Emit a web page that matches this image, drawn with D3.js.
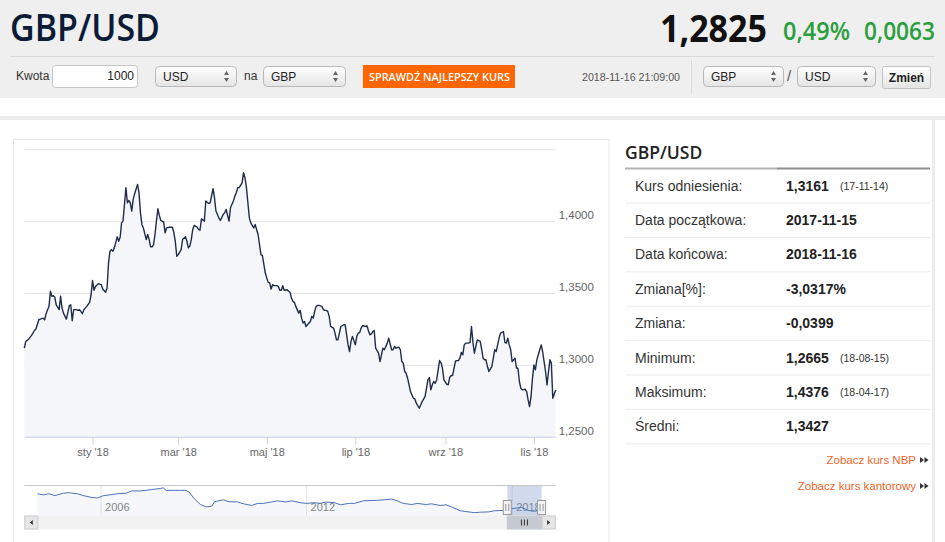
<!DOCTYPE html>
<html lang="pl">
<head>
<meta charset="utf-8">
<title>GBP/USD</title>
<script src="https://cdn.jsdelivr.net/npm/d3@7/dist/d3.min.js"></script>
<style>
  html, body { margin: 0; padding: 0; background: #fff; }
  body { width: 945px; height: 542px; overflow: hidden; }
  svg text { font-family: Arial, "Liberation Sans", sans-serif; }
</style>
</head>
<body>
<div id="chart"></div>
<script>
// GBP/USD 2017-11-15 .. 2018-11-16 (odczyt z wykresu)
const dates = [
  "2017-11-15","2017-11-16","2017-11-18","2017-11-20","2017-11-22","2017-11-23","2017-11-25","2017-11-26","2017-11-28","2017-11-29","2017-11-30",
  "2017-12-02","2017-12-03","2017-12-04","2017-12-05","2017-12-06","2017-12-07","2017-12-09","2017-12-10","2017-12-11","2017-12-12","2017-12-14","2017-12-16","2017-12-17","2017-12-18","2017-12-19","2017-12-21","2017-12-22","2017-12-23","2017-12-25","2017-12-26","2017-12-28","2017-12-30","2017-12-31",
  "2018-01-01","2018-01-02","2018-01-03","2018-01-05","2018-01-07","2018-01-08","2018-01-10","2018-01-11","2018-01-12","2018-01-13","2018-01-14","2018-01-15","2018-01-16","2018-01-18","2018-01-19","2018-01-20","2018-01-21","2018-01-22","2018-01-24","2018-01-25","2018-01-26","2018-01-27","2018-01-28","2018-01-29","2018-01-30",
  "2018-02-01","2018-02-02","2018-02-03","2018-02-04","2018-02-05","2018-02-07","2018-02-08","2018-02-09","2018-02-10","2018-02-11","2018-02-12","2018-02-13","2018-02-14","2018-02-15","2018-02-16","2018-02-17","2018-02-19","2018-02-20","2018-02-21","2018-02-23","2018-02-25","2018-02-26","2018-02-27","2018-02-28",
  "2018-03-01","2018-03-03","2018-03-04","2018-03-06","2018-03-07","2018-03-08","2018-03-09","2018-03-10","2018-03-11","2018-03-12","2018-03-14","2018-03-15","2018-03-16","2018-03-17","2018-03-19","2018-03-20","2018-03-22","2018-03-23","2018-03-25","2018-03-26","2018-03-27","2018-03-29","2018-03-30",
  "2018-04-01","2018-04-02","2018-04-03","2018-04-05","2018-04-06","2018-04-08","2018-04-09","2018-04-10","2018-04-11","2018-04-12","2018-04-14","2018-04-15","2018-04-16","2018-04-17","2018-04-18","2018-04-19","2018-04-20","2018-04-22","2018-04-23","2018-04-24","2018-04-25","2018-04-26","2018-04-27","2018-04-28","2018-04-30",
  "2018-05-01","2018-05-02","2018-05-03","2018-05-04","2018-05-05","2018-05-06","2018-05-08","2018-05-09","2018-05-10","2018-05-11","2018-05-12","2018-05-13","2018-05-15","2018-05-16","2018-05-17","2018-05-18","2018-05-19","2018-05-20","2018-05-21","2018-05-23","2018-05-24","2018-05-25","2018-05-26","2018-05-27","2018-05-28","2018-05-29","2018-05-31",
  "2018-06-01","2018-06-02","2018-06-03","2018-06-04","2018-06-05","2018-06-06","2018-06-08","2018-06-09","2018-06-10","2018-06-11","2018-06-12","2018-06-13","2018-06-14","2018-06-16","2018-06-17","2018-06-18","2018-06-19","2018-06-20","2018-06-21","2018-06-23","2018-06-24","2018-06-25","2018-06-26","2018-06-27","2018-06-28","2018-06-29",
  "2018-07-01","2018-07-02","2018-07-03","2018-07-04","2018-07-05","2018-07-06","2018-07-08","2018-07-09","2018-07-10","2018-07-11","2018-07-12","2018-07-13","2018-07-14","2018-07-15","2018-07-17","2018-07-18","2018-07-20","2018-07-21","2018-07-23","2018-07-24","2018-07-26","2018-07-27","2018-07-28","2018-07-29","2018-07-31",
  "2018-08-01","2018-08-02","2018-08-03","2018-08-04","2018-08-05","2018-08-06","2018-08-07","2018-08-08","2018-08-10","2018-08-11","2018-08-12","2018-08-14","2018-08-15","2018-08-16","2018-08-18","2018-08-19","2018-08-20","2018-08-21","2018-08-22","2018-08-23","2018-08-24","2018-08-25","2018-08-26","2018-08-28","2018-08-29","2018-08-30","2018-08-31",
  "2018-09-02","2018-09-03","2018-09-04","2018-09-05","2018-09-06","2018-09-07","2018-09-08","2018-09-10","2018-09-11","2018-09-12","2018-09-13","2018-09-14","2018-09-15","2018-09-17","2018-09-18","2018-09-19","2018-09-20","2018-09-21","2018-09-22","2018-09-23","2018-09-25","2018-09-26","2018-09-27","2018-09-28","2018-09-29","2018-09-30",
  "2018-10-01","2018-10-03","2018-10-04","2018-10-05","2018-10-06","2018-10-07","2018-10-08","2018-10-09","2018-10-11","2018-10-12","2018-10-13","2018-10-14","2018-10-15","2018-10-16","2018-10-17","2018-10-19","2018-10-20","2018-10-21","2018-10-22","2018-10-23","2018-10-24","2018-10-26","2018-10-27","2018-10-28","2018-10-29","2018-10-30","2018-10-31",
  "2018-11-01","2018-11-02","2018-11-03","2018-11-04","2018-11-05","2018-11-06","2018-11-07","2018-11-08","2018-11-09","2018-11-10","2018-11-12","2018-11-13","2018-11-14","2018-11-16"
];
const rates = [
  1.3116,1.3163,1.3179,1.3205,1.3239,1.3249,1.3314,1.3318,1.3325,1.3314,1.3356,
  1.3407,1.3512,1.3477,1.3481,1.3472,1.3418,1.3384,1.3477,1.3395,1.3360,1.3318,1.3412,1.3418,1.3307,1.3384,1.3384,1.3379,1.3384,1.3356,1.3384,1.3407,1.3435,1.3488,
  1.3588,1.3519,1.3546,1.3565,1.3558,1.3528,1.3505,1.3535,1.3709,1.3791,1.3802,1.3791,1.3814,1.3891,1.3860,1.3888,1.3988,1.4000,1.4233,1.4128,1.4144,1.4128,1.4070,1.4151,1.4191,
  1.4256,1.4198,1.4058,1.3977,1.3953,1.3872,1.3907,1.3872,1.3821,1.3821,1.3837,1.3907,1.4000,1.4086,1.4040,1.4005,1.3993,1.3919,1.3953,1.3958,1.3958,1.3919,1.3860,1.3756,
  1.3767,1.3802,1.3872,1.3891,1.3860,1.3814,1.3826,1.3872,1.3942,1.3970,1.3958,1.3942,1.3937,1.4016,1.4000,1.4140,1.4123,1.4128,1.4226,1.4163,1.4070,1.4023,1.4005,
  1.4047,1.4058,1.4081,1.4000,1.4093,1.4140,1.4174,1.4198,1.4233,1.4233,1.4267,1.4337,1.4302,1.4233,1.4128,1.4023,1.3988,1.3953,1.3977,1.3942,1.3907,1.3837,1.3767,1.3760,1.3639,
  1.3605,1.3574,1.3570,1.3528,1.3558,1.3551,1.3551,1.3546,1.3519,1.3519,1.3551,1.3519,1.3523,1.3512,1.3505,1.3465,1.3442,1.3435,1.3407,1.3360,1.3379,1.3325,1.3291,1.3302,1.3267,1.3279,1.3302,
  1.3337,1.3325,1.3372,1.3407,1.3414,1.3414,1.3407,1.3384,1.3379,1.3379,1.3372,1.3337,1.3267,1.3256,1.3221,1.3174,1.3174,1.3221,1.3267,1.3279,1.3279,1.3209,1.3139,1.3093,1.3163,1.3198,
  1.3139,1.3198,1.3221,1.3225,1.3256,1.3274,1.3267,1.3272,1.3239,1.3209,1.3216,1.3232,1.3239,1.3116,1.3081,1.3023,1.3116,1.3105,1.3151,1.3186,1.3105,1.3105,1.3128,1.3116,1.3123,
  1.3105,1.3023,1.3012,1.2954,1.2942,1.2907,1.2861,1.2814,1.2768,1.2763,1.2733,1.2698,1.2721,1.2744,1.2779,1.2837,1.2895,1.2912,1.2826,1.2861,1.2884,1.2872,1.2895,1.3030,1.3016,1.2977,1.2895,
  1.2865,1.2861,1.2914,1.2926,1.2926,1.2977,1.3028,1.3030,1.3046,1.3086,1.3070,1.3139,1.3151,1.3151,1.3156,1.3267,1.3156,1.3081,1.3128,1.3174,1.3163,1.3109,1.3046,1.3035,1.3035,1.2988,
  1.2954,1.2988,1.3046,1.3105,1.3093,1.3139,1.3186,1.3221,1.3232,1.3156,1.3151,1.3186,1.3139,1.3105,1.3023,1.3046,1.2977,1.2977,1.2884,1.2837,1.2826,1.2830,1.2814,1.2756,1.2710,1.2779,1.2907,
  1.3000,1.2965,1.3035,1.3070,1.3105,1.3139,1.3093,1.3023,1.2954,1.2861,1.3035,1.3012,1.2768,1.2825
];

// navigator - cala historia
const navDates = [
  "2004-03-01","2004-05-01","2004-07-01","2004-09-01","2004-12-01","2005-02-01","2005-05-01","2005-07-01","2005-10-01","2005-12-01",
  "2006-02-01","2006-05-01","2006-07-01","2006-10-01","2006-12-01","2007-03-01","2007-05-01","2007-07-01","2007-10-01","2007-11-01","2007-12-01",
  "2008-03-01","2008-05-01","2008-07-01","2008-08-01","2008-10-01","2008-12-01","2009-02-01","2009-04-01","2009-05-01","2009-08-01","2009-10-01",
  "2010-01-01","2010-03-01","2010-06-01","2010-08-01","2010-10-01","2011-01-01","2011-03-01","2011-06-01","2011-08-01","2011-11-01",
  "2012-01-01","2012-04-01","2012-06-01","2012-08-01","2012-11-01","2013-01-01","2013-04-01","2013-06-01","2013-09-01","2013-11-01",
  "2014-02-01","2014-04-01","2014-07-01","2014-09-01","2014-11-01","2015-02-01","2015-04-01","2015-07-01","2015-09-01","2015-12-01",
  "2016-02-01","2016-04-01","2016-07-01","2016-09-01","2016-12-01","2017-02-01","2017-05-01","2017-07-01","2017-10-01","2017-11-15",
  "2018-01-15","2018-04-15","2018-06-15","2018-08-15","2018-10-01","2018-11-16"
];
const navRates = [
  1.90,1.86,1.90,1.835,1.92,1.935,1.90,1.835,1.77,1.75,
  1.835,1.87,1.90,1.92,2.00,2.00,2.02,2.05,2.085,2.11,2.02,
  2.02,2.02,2.02,1.96,1.71,1.52,1.435,1.46,1.62,1.685,1.62,
  1.61,1.55,1.485,1.56,1.56,1.61,1.65,1.61,1.65,1.585,
  1.56,1.585,1.56,1.61,1.585,1.51,1.56,1.56,1.65,1.66,
  1.67,1.685,1.71,1.65,1.56,1.52,1.56,1.52,1.545,1.485,
  1.51,1.435,1.30,1.27,1.235,1.25,1.26,1.30,1.31,1.32,
  1.38,1.42,1.33,1.28,1.30,1.28
];
const navYears = [2006, 2012, 2018];

const yTicks = [1.25, 1.30, 1.35, 1.40, 1.45];
const monthsPl = ["sty","lut","mar","kwi","maj","cze","lip","sie","wrz","paź","lis","gru"];

const statLabels = ["Kurs odniesienia:", "Data początkowa:", "Data końcowa:", "Zmiana[%]:", "Zmiana:", "Minimum:", "Maksimum:", "Średni:"];
const statValues = ["1,3161", "2017-11-15", "2018-11-16", "-3,0317%", "-0,0399", "1,2665", "1,4376", "1,3427"];
const statNotes  = ["(17-11-14)", "", "", "", "", "(18-08-15)", "(18-04-17)", ""];

const pair = "GBP/USD";
const lastRate = "1,2825";
const changePct = "0,49%";
const changeAbs = "0,0063";

{
  const W = 945, H = 542;
  const parse = d3.timeParse("%Y-%m-%d");
  const pl = d3.formatLocale({decimal: ",", thousands: " ", grouping: [3], currency: ["", " zł"]});
  const fmt4 = pl.format(".4f");

  const series = dates.map((d, i) => ({date: parse(d), rate: rates[i]}));
  const navSeries = navDates.map((d, i) => ({date: parse(d), rate: navRates[i]}));

  const svg = d3.select("#chart").append("svg")
    .attr("width", W)
    .attr("height", H)
    .style("display", "block");

  const defs = svg.append("defs");
  const selGrad = defs.append("linearGradient").attr("id", "selGrad")
    .attr("x1", 0).attr("y1", 0).attr("x2", 0).attr("y2", 1);
  selGrad.append("stop").attr("offset", "0%").attr("stop-color", "#ffffff");
  selGrad.append("stop").attr("offset", "100%").attr("stop-color", "#e4e4e4");

  // ---- naglowek ----
  svg.append("rect").attr("width", W).attr("height", 98).attr("fill", "#efefef");
  svg.append("line")
    .attr("x1", 10).attr("x2", 935).attr("y1", 56.5).attr("y2", 56.5)
    .attr("stroke", "#dadada");

  svg.append("text")
    .attr("x", 10).attr("y", 41)
    .attr("textLength", 150).attr("lengthAdjust", "spacingAndGlyphs")
    .style("font", "600 37px 'Open Sans'")
    .attr("fill", "#0c1c36")
    .text(pair);

  svg.append("text")
    .attr("x", 660).attr("y", 42)
    .attr("textLength", 107).attr("lengthAdjust", "spacingAndGlyphs")
    .style("font", "700 38px 'Open Sans'")
    .attr("fill", "#111")
    .text(lastRate);

  svg.append("text")
    .attr("x", 783).attr("y", 40)
    .attr("textLength", 67).attr("lengthAdjust", "spacingAndGlyphs")
    .style("font", "600 26px 'Open Sans'")
    .attr("fill", "#2b9e3e")
    .text(changePct);

  svg.append("text")
    .attr("x", 864).attr("y", 40)
    .attr("textLength", 71).attr("lengthAdjust", "spacingAndGlyphs")
    .style("font", "600 26px 'Open Sans'")
    .attr("fill", "#2b9e3e")
    .text(changeAbs);

  // ---- pasek kontrolek ----
  const label = (x, y, t, size, color) => svg.append("text")
    .attr("x", x).attr("y", y)
    .style("font-size", size)
    .attr("fill", color)
    .text(t);

  label(16, 80, "Kwota", "12px", "#333");
  svg.append("rect")
    .attr("x", 52.5).attr("y", 65.5).attr("width", 85).attr("height", 22).attr("rx", 3)
    .attr("fill", "#fff").attr("stroke", "#c6c6c6");
  label(134, 80, "1000", "12px", "#222").attr("text-anchor", "end");

  function selectBox(x, w, t) {
    const g = svg.append("g").attr("transform", `translate(${x},66)`);
    g.append("rect")
      .attr("x", 0.5).attr("y", 0.5).attr("width", w).attr("height", 20).attr("rx", 4)
      .attr("fill", "url(#selGrad)").attr("stroke", "#b8b8b8");
    g.append("text").attr("x", 8).attr("y", 14.5)
      .style("font-size", "12px").attr("fill", "#222").text(t);
    g.append("path")
      .attr("d", `M${w - 12},9 l2.5,-4 l2.5,4 z M${w - 12},12 l2.5,4 l2.5,-4 z`)
      .attr("fill", "#666");
  }
  selectBox(155, 81, "USD");
  label(244, 80, "na", "12px", "#333");
  selectBox(263, 82, "GBP");

  svg.append("rect")
    .attr("x", 363).attr("y", 65).attr("width", 152).attr("height", 23)
    .attr("fill", "#ff6600");
  svg.append("text")
    .attr("x", 369).attr("y", 80.5)
    .attr("textLength", 141).attr("lengthAdjust", "spacingAndGlyphs")
    .style("font", "600 11px 'Open Sans'")
    .attr("fill", "#fff")
    .text("SPRAWDŹ NAJLEPSZY KURS");

  label(582, 80.5, "2018-11-16 21:09:00", "11px", "#555")
    .attr("textLength", 98).attr("lengthAdjust", "spacingAndGlyphs");
  svg.append("line")
    .attr("x1", 691.5).attr("x2", 691.5).attr("y1", 60).attr("y2", 94)
    .attr("stroke", "#dcdcdc");

  selectBox(703, 80, "GBP");
  label(787, 81, "/", "15px", "#555");
  selectBox(797, 78, "USD");

  svg.append("rect")
    .attr("x", 882.5).attr("y", 66.5).attr("width", 48).attr("height", 22).attr("rx", 2)
    .attr("fill", "url(#selGrad)").attr("stroke", "#c2c2c2");
  svg.append("text")
    .attr("x", 906.5).attr("y", 81.5).attr("text-anchor", "middle")
    .style("font", "700 12px Arial")
    .attr("fill", "#222")
    .text("Zmień");

  // ramki tresci
  svg.append("rect").attr("x", 0).attr("y", 116).attr("width", W).attr("height", 4).attr("fill", "#ececec");
  svg.append("rect").attr("x", 932).attr("y", 120).attr("width", 3).attr("height", H - 120).attr("fill", "#ececec");
  svg.append("rect")
    .attr("x", 13.5).attr("y", 139.5).attr("width", 595.5).attr("height", 420)
    .attr("fill", "none").attr("stroke", "#e8e8e8");

  // ---- wykres glowny ----
  const plot = {left: 24.3, right: 555.7, top: 149.3, bottom: 436.7};
  const x = d3.scaleTime()
    .domain([parse("2017-11-15"), parse("2018-11-16")])
    .range([plot.left, plot.right]);
  const y = d3.scaleLinear()
    .domain([1.25, 1.45])
    .range([plot.bottom, plot.top]);

  const yAxis = svg.append("g")
    .attr("transform", `translate(${plot.right},0)`)
    .call(d3.axisRight(y).tickValues(yTicks).tickSize(-(plot.right - plot.left)).tickPadding(3).tickFormat(fmt4));
  yAxis.select(".domain").remove();
  yAxis.selectAll("line").attr("stroke", "#e2e2e2");
  yAxis.selectAll("text")
    .attr("y", -6)
    .attr("fill", "#666")
    .style("font-size", "11.5px");
  yAxis.selectAll(".tick").filter(d => d === 1.45).select("text").remove();

  const area = d3.area()
    .x(d => x(d.date))
    .y0(y(1.25))
    .y1(d => y(d.rate));
  const line = d3.line()
    .x(d => x(d.date))
    .y(d => y(d.rate));

  svg.append("path")
    .datum(series)
    .attr("d", area)
    .attr("fill", "#f4f6f9");
  svg.append("path")
    .datum(series)
    .attr("d", line)
    .attr("fill", "none")
    .attr("stroke", "#1e2c4c")
    .attr("stroke-width", 1.4)
    .attr("stroke-linejoin", "round");

  const xAxis = svg.append("g")
    .attr("transform", `translate(0,${plot.bottom})`)
    .call(d3.axisBottom(x)
      .ticks(d3.timeMonth.every(2))
      .tickSize(8)
      .tickSizeOuter(0)
      .tickPadding(4)
      .tickFormat(d => `${monthsPl[d.getMonth()]} '${String(d.getFullYear()).slice(2)}`));
  xAxis.select(".domain").attr("stroke", "#ccd6eb");
  xAxis.selectAll("line").attr("stroke", "#ccd6eb");
  xAxis.selectAll("text")
    .attr("fill", "#666")
    .style("font-size", "11px");

  // ---- navigator ----
  const nav = {left: 37.6, right: 541.6, top: 485.6, bottom: 515.5};
  const nx = d3.scaleTime()
    .domain(d3.extent(navSeries, d => d.date))
    .range([nav.left, nav.right]);
  const ny = d3.scaleLinear()
    .domain(d3.extent(navSeries, d => d.rate))
    .range([512.6, 487.8]);

  const navAxis = svg.append("g")
    .attr("transform", `translate(0,${nav.bottom})`)
    .call(d3.axisBottom(nx)
      .tickValues(navYears.map(yr => new Date(yr, 0, 1)))
      .tickSize(-(nav.bottom - nav.top))
      .tickFormat(d3.timeFormat("%Y")));
  navAxis.select(".domain").remove();
  navAxis.selectAll("line").attr("stroke", "#e6e6e6");
  navAxis.selectAll("text")
    .attr("text-anchor", "start")
    .attr("x", 4)
    .attr("y", -8)
    .attr("dy", "0.32em")
    .attr("fill", "#888")
    .style("font-size", "11px");

  svg.append("path")
    .datum(navSeries)
    .attr("d", d3.area().x(d => nx(d.date)).y0(nav.bottom).y1(d => ny(d.rate)))
    .attr("fill", "#335cad")
    .attr("fill-opacity", 0.05);
  svg.append("path")
    .datum(navSeries)
    .attr("d", d3.line().x(d => nx(d.date)).y(d => ny(d.rate)))
    .attr("fill", "none")
    .attr("stroke", "#4a72b8")
    .attr("stroke-width", 1);

  const selX0 = nx(parse(dates[0]));
  const selX1 = nx(parse(dates[dates.length - 1]));
  svg.append("rect")
    .attr("x", selX0).attr("y", nav.top)
    .attr("width", selX1 - selX0).attr("height", nav.bottom - nav.top)
    .attr("fill", "rgba(102,133,194,0.3)");
  svg.append("line")
    .attr("x1", plot.left).attr("x2", plot.right)
    .attr("y1", nav.top).attr("y2", nav.top)
    .attr("stroke", "#c4c4c4");

  [selX0, selX1].forEach(hx => {
    svg.append("rect")
      .attr("x", hx - 4).attr("y", 500.5).attr("width", 8).attr("height", 14)
      .attr("fill", "#f2f2f2").attr("stroke", "#999");
    svg.append("path")
      .attr("d", `M${hx - 1.5},504 v7 M${hx + 1.5},504 v7`)
      .attr("stroke", "#999");
  });

  // scrollbar
  const sb = {top: 515.5, h: 14};
  svg.append("rect")
    .attr("x", plot.left).attr("y", sb.top).attr("width", plot.right - plot.left).attr("height", sb.h)
    .attr("fill", "#f2f2f2");
  [[plot.left, -1], [plot.right - 14, 1]].forEach(([bx, dir]) => {
    svg.append("rect")
      .attr("x", bx + 0.5).attr("y", sb.top + 0.5).attr("width", 13).attr("height", sb.h - 1)
      .attr("fill", "#e6e6e6").attr("stroke", "#cccccc");
    const cx = bx + 7, cy = sb.top + sb.h / 2;
    svg.append("path")
      .attr("d", `M${cx + 1.5 * dir},${cy} L${cx - 1.5 * dir},${cy - 2.5} L${cx - 1.5 * dir},${cy + 2.5} Z`)
      .attr("fill", "#333");
  });
  svg.append("rect")
    .attr("x", selX0).attr("y", sb.top + 0.5).attr("width", selX1 - selX0).attr("height", sb.h - 1)
    .attr("fill", "#c5c9d0").attr("stroke", "#c5c9d0");
  const gx = (selX0 + selX1) / 2;
  svg.append("path")
    .attr("d", `M${gx - 3},${sb.top + 4} v6 M${gx},${sb.top + 4} v6 M${gx + 3},${sb.top + 4} v6`)
    .attr("stroke", "#333");

  // ---- panel statystyk ----
  svg.append("text")
    .attr("x", 625).attr("y", 159)
    .style("font", "600 17.5px 'Open Sans'")
    .attr("fill", "#222")
    .text(pair);
  svg.append("line").attr("x1", 625).attr("x2", 777).attr("y1", 168.5).attr("y2", 168.5)
    .attr("stroke", "#b4b4b4").attr("stroke-width", 2);
  svg.append("line").attr("x1", 777).attr("x2", 930).attr("y1", 168.5).attr("y2", 168.5)
    .attr("stroke", "#8e8e8e").attr("stroke-width", 2);

  const rowY0 = 185.5, rowH = 34.4;
  const rows = svg.selectAll(".stat")
    .data(statLabels)
    .join("g")
    .attr("class", "stat")
    .attr("transform", (d, i) => `translate(0,${rowY0 + i * rowH})`);
  rows.append("line")
    .attr("x1", 625).attr("x2", 930).attr("y1", 17.5).attr("y2", 17.5)
    .attr("stroke", "#ebebeb");
  rows.append("text")
    .attr("x", 635).attr("y", 5)
    .style("font-size", "14px")
    .attr("fill", "#333")
    .text(d => d);
  rows.append("text")
    .attr("x", 786).attr("y", 5)
    .style("font", "700 14px Arial")
    .attr("fill", "#222")
    .text((d, i) => statValues[i]);
  rows.append("text")
    .attr("x", 840).attr("y", 4.5)
    .style("font-size", "10.5px")
    .attr("fill", "#333")
    .text((d, i) => statNotes[i]);

  const links = ["Zobacz kurs NBP", "Zobacz kurs kantorowy"];
  links.forEach((t, i) => {
    const ly = 460 + i * 26;
    svg.append("text")
      .attr("x", 916).attr("y", ly + 4)
      .attr("text-anchor", "end")
      .style("font-size", "11.5px")
      .attr("fill", "#f0652a")
      .text(t);
    svg.append("path")
      .attr("d", `M920,${ly - 3} l4,3 l-4,3 z M924.5,${ly - 3} l4,3 l-4,3 z`)
      .attr("fill", "#333");
  });
}
</script>
</body>
</html>
